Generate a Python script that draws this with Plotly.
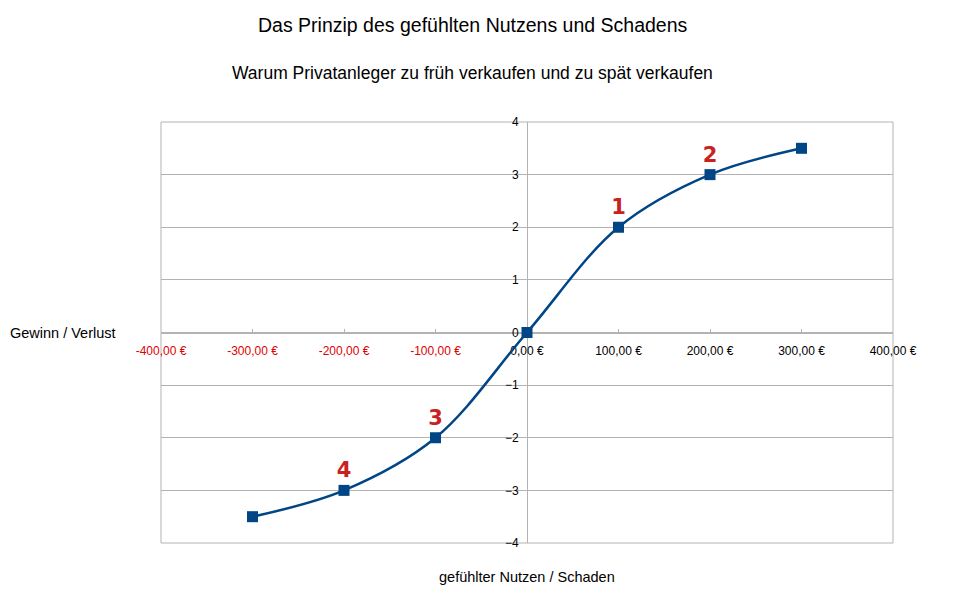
import plotly.graph_objects as go

# data
x_vals = [-300, -200, -100, 0, 100, 200, 300]
y_vals = [-3.5, -3, -2, 0, 2, 3, 3.5]
point_labels = ["", "4", "3", "", "1", "2", ""]

x_ticks = [-400, -300, -200, -100, 0, 100, 200, 300, 400]
x_tick_text = ["-400,00 €", "-300,00 €", "-200,00 €", "-100,00 €",
               "0,00 €", "100,00 €", "200,00 €", "300,00 €", "400,00 €"]
y_ticks = [-4, -3, -2, -1, 0, 1, 2, 3, 4]

grid = "#b3b3b3"
font = "Liberation Sans, Arial, sans-serif"

# negative values shown in red, like the original
tick_html = []
for v, t in zip(x_ticks, x_tick_text):
    col = "#e00000" if v < 0 else "black"
    tick_html.append(f'<span style="color:{col}">{t}</span>')

fig = go.Figure()
fig.add_trace(go.Scatter(
    x=x_vals, y=y_vals,
    mode="lines+markers+text",
    line=dict(color="#004586", width=2.5, shape="spline", smoothing=1),
    marker=dict(symbol="square", size=11, color="#004586"),
    text=point_labels,
    textposition="top center",
    textfont=dict(family="DejaVu Sans, sans-serif", size=21, color="#c9211e", weight="bold"),
    cliponaxis=False,
    showlegend=False,
))

# page body adds 8px, so margins are 8 smaller than the target plot box
fig.update_layout(
    width=954, height=601,
    autosize=False,
    paper_bgcolor="white",
    plot_bgcolor="white",
    margin=dict(l=153, r=69, t=114, b=66),
    font=dict(family=font, size=12, color="black"),
    xaxis=dict(
        range=[-400, 400],
        anchor="free", position=0.5,
        tickvals=x_ticks, ticktext=tick_html,
        showgrid=False, zeroline=False,
        showline=True, linecolor=grid, linewidth=1,
        ticks="inside", ticklen=4, tickcolor=grid,
        ticklabelstandoff=7,
        layer="below traces",
    ),
    yaxis=dict(
        range=[-4, 4],
        anchor="free", position=0.5,
        tickvals=y_ticks,
        showgrid=True, gridcolor=grid, gridwidth=1,
        zeroline=False,
        showline=True, linecolor=grid, linewidth=1,
        ticks="", ticklabelstandoff=6,
        layer="below traces",
    ),
    shapes=[dict(type="rect", xref="paper", yref="paper",
                 x0=0, x1=1, y0=0, y1=1,
                 line=dict(color=grid, width=1), layer="below")],
    annotations=[
        dict(text="Das Prinzip des gefühlten Nutzens und Schadens",
             xref="paper", yref="paper", x=0.426, y=1, yanchor="middle", yshift=97,
             showarrow=False, font=dict(size=19.5)),
        dict(text="Warum Privatanleger zu früh verkaufen und zu spät verkaufen",
             xref="paper", yref="paper", x=0.426, y=1, yanchor="middle", yshift=49,
             showarrow=False, font=dict(size=17.5)),
        dict(text="Gewinn / Verlust", xref="paper", yref="paper",
             x=0, y=0.5, xanchor="left", xshift=-153,
             showarrow=False, font=dict(size=14.5)),
        dict(text="gefühlter Nutzen / Schaden", xref="paper", yref="paper",
             x=0.5, y=0, yanchor="middle", yshift=-34,
             showarrow=False, font=dict(size=14.5)),
    ],
)

fig.write_html("out.html")
